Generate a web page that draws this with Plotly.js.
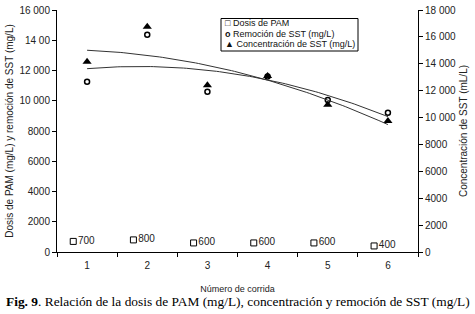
<!DOCTYPE html>
<html><head><meta charset="utf-8">
<script src="https://cdn.plot.ly/plotly-3.0.1.min.js"></script>
<style>html,body{margin:0;padding:0;background:#fff;} #chart{width:475px;height:314px;}</style>
</head><body><div id="chart"></div>
<script>
const runs = [1, 2, 3, 4, 5, 6];
const runLabels = ['1', '2', '3', '4', '5', '6'];
const pamDose = [700, 800, 600, 600, 600, 400];
const sstRemoval = [11260, 14370, 10600, 11600, 10050, 9210];
const sstConcentration = [14150, 16750, 12400, 13100, 10950, 9750];
const leftTickVals = [0, 2000, 4000, 6000, 8000, 10000, 12000, 14000, 16000];
const leftTickText = ['0', '2000', '4000', '6000', '8000', '10 000', '12 000', '14 00', '16 000'];
const rightTickVals = [0, 2000, 4000, 6000, 8000, 10000, 12000, 14000, 16000, 18000];
const rightTickText = ['0', '2000', '4000', '6000', '8000', '10 000', '12 000', '14 000', '16 000', '18 000'];
const seriesNames = ['Dosis de PAM', 'Remoción de SST (mg/L)', 'Concentración de SST (mg/L)'];
const legendGlyphs = ['□', '<b>ᴏ</b>', '▲'];

function quadFit(xs, ys) {
  let S = [0,0,0,0,0], T = [0,0,0];
  xs.forEach((x, i) => {
    for (let k = 0; k < 5; k++) S[k] += Math.pow(x, k);
    for (let k = 0; k < 3; k++) T[k] += ys[i] * Math.pow(x, k);
  });
  const M = [[S[0],S[1],S[2]],[S[1],S[2],S[3]],[S[2],S[3],S[4]]];
  const det = m => m[0][0]*(m[1][1]*m[2][2]-m[1][2]*m[2][1]) - m[0][1]*(m[1][0]*m[2][2]-m[1][2]*m[2][0]) + m[0][2]*(m[1][0]*m[2][1]-m[1][1]*m[2][0]);
  const D = det(M);
  const coef = [0,1,2].map(c => {
    const m = M.map((row, r) => row.map((v, j) => j === c ? T[r] : v));
    return det(m) / D;
  });
  return x => coef[0] + coef[1]*x + coef[2]*x*x;
}
const fitRem = quadFit(runs, sstRemoval);
const fitConc = quadFit(runs, sstConcentration);
const xsFine = [];
for (let x = runs[0]; x <= runs[runs.length-1] + 1e-9; x += 0.05) xsFine.push(x);

const font = 'Liberation Sans, Arial, sans-serif';
const traces = [
  {x: runs, y: pamDose, type: 'scatter', mode: 'markers+text', name: seriesNames[0],
   xaxis: 'x2', yaxis: 'y',
   text: pamDose.map(String), textposition: 'middle right', textfont: {family: font, size: 10, color: '#222'},
   marker: {symbol: 'square-open', size: 6, color: '#000', line: {width: 1, color: '#000'}}, cliponaxis: false},
  {x: runs, y: sstRemoval, type: 'scatter', mode: 'markers', name: seriesNames[1],
   xaxis: 'x', yaxis: 'y',
   marker: {symbol: 'circle-open', size: 5, color: '#000', line: {width: 1.5, color: '#000'}}},
  {x: runs, y: sstConcentration, type: 'scatter', mode: 'markers', name: seriesNames[2],
   xaxis: 'x', yaxis: 'y2',
   marker: {symbol: 'triangle-up', size: 8, color: '#000'}},
  {x: xsFine, y: xsFine.map(fitRem), type: 'scatter', mode: 'lines', showlegend: false,
   xaxis: 'x', yaxis: 'y', line: {color: '#333', width: 1}, hoverinfo: 'skip'},
  {x: xsFine, y: xsFine.map(fitConc), type: 'scatter', mode: 'lines', showlegend: false,
   xaxis: 'x', yaxis: 'y2', line: {color: '#333', width: 1}, hoverinfo: 'skip'}
];

// plot area in px: left 57, right 418, top 10, bottom 252
const W = 361, H = 242, L = 57, B = 252;
const px = x => (x - L) / W;
const py = y => (B - y) / H;

const legendAnn = seriesNames.map((n, i) => ({
  xref: 'paper', yref: 'paper', x: px(223), y: py(23.5 + i * 10.2), xanchor: 'left', yanchor: 'middle',
  showarrow: false, text: legendGlyphs[i] + ' ' + n,
  font: {family: font, size: 9, color: '#111'}
}));

const xRange = [runs[0] - 0.5, runs[runs.length-1] + 0.5];
const shift = 0.23;
const layout = {
  width: 475, height: 314,
  margin: {l: 57, r: 57, t: 10, b: 62},
  paper_bgcolor: '#fff', plot_bgcolor: '#fff',
  font: {family: font, size: 10, color: '#222'},
  showlegend: false,
  xaxis: {range: xRange, tickmode: 'array', tickvals: runs, ticktext: runLabels,
          ticks: 'outside', ticklen: 0, ticklabelstandoff: 4, showline: true, linecolor: '#000', linewidth: 1,
          showgrid: false, zeroline: false, tickfont: {size: 10, color: '#222'},
          minor: {tickmode: 'array', tickvals: runs.map(r => r - 0.5).concat([runs[runs.length-1] + 0.5]),
                  ticks: 'outside', ticklen: 4, tickcolor: '#000', tickwidth: 1, showgrid: false},
          title: {text: 'Número de corrida', font: {size: 9, color: '#222'}, standoff: 15}},
  xaxis2: {overlaying: 'x', range: [xRange[0] + shift, xRange[1] + shift], visible: false},
  yaxis: {range: [0, 16000], tickmode: 'array', tickvals: leftTickVals, ticktext: leftTickText,
          ticks: 'outside', ticklen: 4, tickcolor: '#000', showline: true, linecolor: '#000', linewidth: 1,
          showgrid: false, zeroline: false, tickfont: {size: 10, color: '#222'},
          title: {text: 'Dosis de PAM (mg/L) y remoción de SST (mg/L)', font: {size: 10, color: '#222'}, standoff: 3}},
  yaxis2: {overlaying: 'y', side: 'right', range: [0, 18000], tickmode: 'array', tickvals: rightTickVals, ticktext: rightTickText,
          ticks: 'outside', ticklen: 4, tickcolor: '#000', showline: true, linecolor: '#000', linewidth: 1,
          showgrid: false, zeroline: false, tickfont: {size: 10, color: '#222'},
          title: {text: 'Concentración de SST (mL/L)', font: {size: 10, color: '#222'}, standoff: 4}},
  shapes: [{type: 'rect', xref: 'paper', yref: 'paper', x0: px(221), x1: px(358), y0: py(51), y1: py(18.5),
            line: {color: '#000', width: 1}, fillcolor: '#fff', layer: 'above'}],
  annotations: legendAnn.concat([{xref: 'paper', yref: 'paper', x: px(237.5), y: py(301.5), xanchor: 'center', yanchor: 'middle',
    showarrow: false, text: '<b>Fig. 9</b>. Relación de la dosis de PAM (mg/L), concentración y remoción de SST (mg/L)',
    font: {family: 'Liberation Serif, Times New Roman, serif', size: 13.4, color: '#000'}}])
};
Plotly.newPlot('chart', traces, layout, {displayModeBar: false, staticPlot: true});
</script></body></html>
